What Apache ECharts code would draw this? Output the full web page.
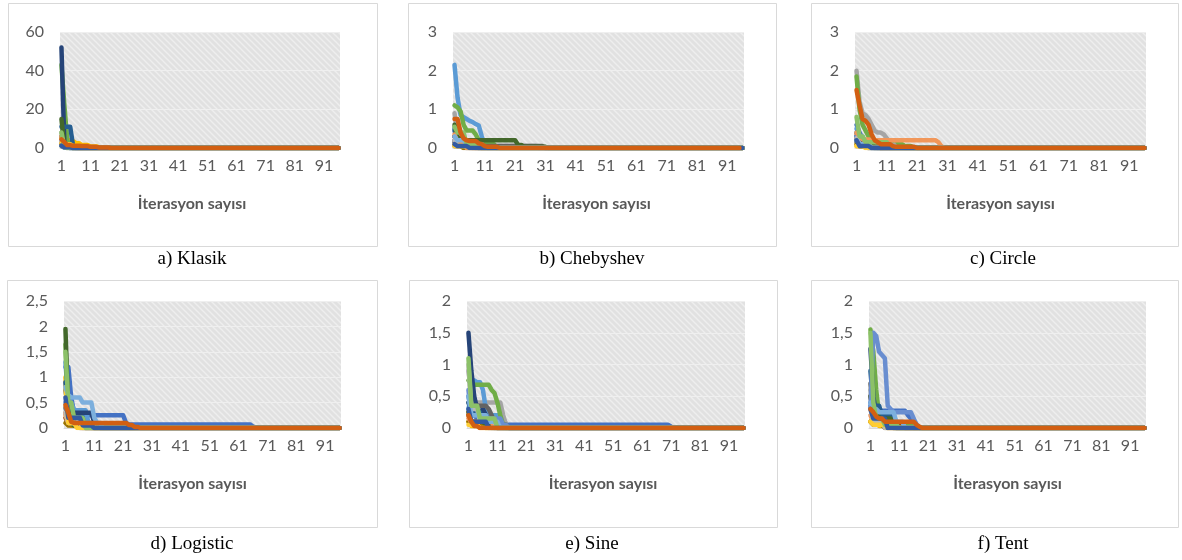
<!DOCTYPE html>
<html><head><meta charset="utf-8">
<script src="https://cdn.jsdelivr.net/npm/echarts@6/dist/echarts.min.js"></script>
<style>html,body{margin:0;padding:0;background:#fff;} #c{width:1182px;height:560px;}</style>
</head><body><div id="c"></div><script>
// ---------------- DATA ----------------
const N = 96; // iterations shown on the x axis
const categories = [];
for (let i = 1; i <= N; i++) categories.push(String(i));

// Series colours (Excel Office palette, 20 runs)
const colors = ['#4472C4','#ED7D31','#A5A5A5','#FFC000','#5B9BD5','#70AD47',
  '#264478','#9E480E','#636363','#997300','#255E91','#43682B',
  '#698ED0','#F1975A','#B7B7B7','#FFCD33','#7CAFDD','#8CC168',
  '#335AA1','#D25F12'];

// Each run is written as [value, how many consecutive iterations] pairs.
const klasik = [
  [[2,1],[0.5,2],[0,93]],
  [[3,1],[1,2],[0.3,3],[0,90]],
  [[8,1],[1,1],[0,94]],
  [[5,1],[4.5,2],[3.5,2],[2.5,2],[1.5,3],[0.8,3],[0.3,2],[0,81]],
  [[1.5,1],[0.5,2],[0,93]],
  [[43,1],[22,1],[4,1],[1,1],[0,92]],
  [[52,1],[2,1],[1,2],[0,92]],
  [[2,1],[0.5,3],[0,92]],
  [[6,1],[1,2],[0,93]],
  [[1,1],[0.2,3],[0,92]],
  [[11,4],[1,1],[0,91]],
  [[15,1],[0.5,1],[0,94]],
  [[4,1],[0.3,2],[0,93]],
  [[6,1],[1.5,2],[0.5,3],[0,90]],
  [[3,1],[0.2,2],[0,93]],
  [[2.5,1],[2,3],[1,3],[0.3,3],[0,86]],
  [[1,1],[0.2,2],[0,93]],
  [[8,1],[0.5,1],[0,94]],
  [[1.2,1],[0.4,3],[0,92]],
  [[4.5,1],[3,1],[1.5,2],[1.2,3],[1,3],[0.6,3],[0.3,4],[0,79]]
];
const chebyshev = [
  [[0.45,1],[0.15,2],[0.05,4],[0,89]],
  [[0.3,1],[0.15,3],[0.05,5],[0,87]],
  [[0.9,1],[0.3,2],[0.1,5],[0.05,20],[0,68]],
  [[0.1,1],[0.05,8],[0,87]],
  [[2.15,1],[1.3,1],[0.85,1],[0.8,1],[0.75,1],[0.7,1],[0.67,1],[0.62,1],[0.58,1],[0.3,1],[0.05,1],[0,85]],
  [[1.1,1],[1.05,1],[0.95,1],[0.6,1],[0.45,3],[0.35,1],[0.2,1],[0.15,1],[0.1,4],[0,82]],
  [[0.3,1],[0.1,3],[0,92]],
  [[0.2,1],[0.1,5],[0,90]],
  [[0.15,1],[0.1,5],[0.05,24],[0,66]],
  [[0.05,3],[0,93]],
  [[0.5,1],[0.15,4],[0.05,3],[0,88]],
  [[0.6,1],[0.25,2],[0.2,18],[0.08,2],[0.03,8],[0,65]],
  [[0.2,1],[0.1,2],[0.05,5],[0,88]],
  [[0.35,1],[0.15,3],[0,92]],
  [[0.2,1],[0.05,6],[0,89]],
  [[0.05,5],[0,91]],
  [[0.3,1],[0.2,3],[0.1,6],[0,86]],
  [[0.55,1],[0.4,3],[0.1,4],[0,88]],
  [[0.1,1],[0.05,4],[0,91]],
  [[0.75,2],[0.4,1],[0.25,1],[0.2,1],[0.18,3],[0.12,1],[0.1,1],[0.05,1],[0.03,4],[0,80]]
];
const circle = [
  [[0.6,1],[0.4,1],[0.25,1],[0.1,2],[0,91]],
  [[0.35,1],[0.2,3],[0.05,4],[0,88]],
  [[2.0,1],[1.2,1],[0.9,1],[0.85,1],[0.75,1],[0.6,1],[0.45,1],[0.4,2],[0.35,1],[0.25,1],[0.15,1],[0.1,1],[0.08,3],[0,80]],
  [[0.05,4],[0.02,4],[0,88]],
  [[0.5,1],[0.3,2],[0.05,2],[0,91]],
  [[1.85,1],[1.0,1],[0.6,1],[0.45,1],[0.3,1],[0.22,1],[0.2,8],[0.12,1],[0.1,1],[0.05,3],[0,77]],
  [[0.3,1],[0.1,3],[0,92]],
  [[0.25,1],[0.15,4],[0.05,3],[0,88]],
  [[0.15,1],[0.05,6],[0,89]],
  [[0.1,1],[0.05,3],[0,92]],
  [[0.4,1],[0.2,3],[0.05,2],[0,90]],
  [[0.2,1],[0.1,5],[0,90]],
  [[0.3,1],[0.1,3],[0,92]],
  [[0.4,1],[0.3,1],[0.22,3],[0.2,22],[0.15,1],[0.05,1],[0,67]],
  [[0.25,1],[0.1,3],[0,92]],
  [[0.05,3],[0,93]],
  [[0.2,1],[0.1,4],[0,91]],
  [[0.8,1],[0.3,2],[0.15,8],[0,85]],
  [[0.2,1],[0.05,4],[0,91]],
  [[1.5,1],[1.1,1],[0.75,1],[0.7,1],[0.6,1],[0.35,1],[0.2,1],[0.15,1],[0.1,4],[0.05,1],[0.03,7],[0,76]]
];
const logistic = [
  [[1.2,2],[0.6,1],[0.3,1],[0.25,17],[0.1,1],[0.07,43],[0.03,1],[0,30]],
  [[0.3,1],[0.15,3],[0.05,6],[0,86]],
  [[0.9,1],[0.3,2],[0.1,6],[0,87]],
  [[1.0,1],[0.3,1],[0.05,2],[0.02,18],[0,74]],
  [[1.3,1],[0.5,2],[0.35,5],[0.1,4],[0,84]],
  [[1.65,1],[0.4,1],[0.2,3],[0.1,5],[0,86]],
  [[0.75,1],[0.35,2],[0.3,7],[0.1,2],[0,84]],
  [[0.2,1],[0.1,4],[0,91]],
  [[0.4,1],[0.15,4],[0,91]],
  [[0.1,1],[0.05,5],[0,90]],
  [[0.9,1],[0.4,2],[0.2,4],[0,89]],
  [[1.95,1],[0.3,1],[0.1,1],[0.05,4],[0,89]],
  [[0.5,1],[0.2,4],[0.1,5],[0,86]],
  [[0.25,1],[0.1,6],[0,89]],
  [[0.3,1],[0.1,5],[0,90]],
  [[0.8,1],[0.1,3],[0,92]],
  [[0.8,1],[0.65,1],[0.6,4],[0.5,4],[0.2,1],[0.1,2],[0,83]],
  [[1.5,1],[0.5,2],[0.2,4],[0,89]],
  [[0.6,1],[0.2,5],[0.05,4],[0,86]],
  [[0.45,1],[0.3,1],[0.12,1],[0.1,19],[0.06,2],[0.02,2],[0,70]]
];
const sine = [
  [[0.5,1],[0.3,1],[0.2,1],[0.15,10],[0.06,1],[0.05,56],[0.02,1],[0,25]],
  [[0.25,1],[0.1,3],[0.05,6],[0,86]],
  [[0.9,1],[0.5,1],[0.42,1],[0.4,9],[0.2,1],[0.05,1],[0,82]],
  [[0.1,1],[0.03,5],[0,90]],
  [[0.3,1],[0.5,1],[0.75,1],[0.72,2],[0.6,1],[0.3,1],[0.2,4],[0.1,1],[0,84]],
  [[0.75,1],[0.7,1],[0.68,6],[0.6,1],[0.55,1],[0.4,1],[0.2,1],[0.05,1],[0,83]],
  [[1.5,1],[0.9,1],[0.5,1],[0.3,1],[0.25,1],[0.3,1],[0.2,1],[0.1,1],[0,88]],
  [[0.2,1],[0.1,5],[0.05,4],[0,86]],
  [[0.4,1],[0.35,6],[0.3,1],[0.2,1],[0.1,1],[0,86]],
  [[0.1,1],[0.05,5],[0,90]],
  [[0.4,1],[0.25,4],[0.1,4],[0,87]],
  [[0.25,1],[0.1,5],[0.05,8],[0,82]],
  [[0.6,1],[0.2,5],[0.15,6],[0.05,2],[0,82]],
  [[0.15,1],[0.1,8],[0,87]],
  [[1.0,1],[0.3,3],[0.1,6],[0,86]],
  [[0.05,4],[0,92]],
  [[0.5,1],[0.2,6],[0.1,4],[0,85]],
  [[1.1,1],[0.35,3],[0.15,6],[0,86]],
  [[0.3,1],[0.1,6],[0,89]],
  [[0.2,1],[0.1,1],[0.03,2],[0,92]]
];
const tent = [
  [[0.4,1],[0.35,1],[0.3,1],[0.28,1],[0.27,9],[0.2,1],[0.15,1],[0.12,1],[0.05,1],[0,79]],
  [[0.3,1],[0.15,3],[0.05,5],[0,87]],
  [[0.6,1],[0.2,3],[0.05,5],[0,87]],
  [[0.1,1],[0.08,2],[0.03,3],[0,90]],
  [[0.35,1],[0.25,3],[0.1,5],[0,87]],
  [[1.55,1],[1.2,1],[0.6,1],[0.2,1],[0.1,5],[0.05,6],[0,81]],
  [[1.25,1],[0.5,1],[0.2,3],[0.1,4],[0,87]],
  [[0.5,1],[0.2,3],[0.15,5],[0.05,3],[0,84]],
  [[0.7,1],[0.25,3],[0.1,4],[0,88]],
  [[0.1,1],[0.05,4],[0,91]],
  [[0.9,1],[0.35,3],[0.2,4],[0,88]],
  [[0.5,1],[0.3,2],[0.15,5],[0,88]],
  [[0.3,1],[1.5,1],[1.45,1],[1.2,1],[1.15,1],[1.1,1],[0.35,1],[0.3,1],[0.25,7],[0.15,1],[0.05,1],[0,79]],
  [[0.2,1],[0.1,5],[0,90]],
  [[0.3,1],[0.1,4],[0,91]],
  [[0.1,1],[0.05,5],[0,90]],
  [[0.4,1],[0.3,2],[0.25,6],[0.1,3],[0,84]],
  [[1.5,1],[0.4,1],[0.15,3],[0.05,5],[0,86]],
  [[0.3,1],[0.15,5],[0,90]],
  [[0.3,1],[0.25,1],[0.18,1],[0.15,2],[0.1,11],[0.05,1],[0.02,1],[0,78]]
];

// Panel texts and y-axis ticks
const captions = ['a) Klasik','b) Chebyshev','c) Circle','d) Logistic','e) Sine','f) Tent'];
const yMax = [60, 3, 3, 2.5, 2, 2];
const yStep = [20, 1, 1, 0.5, 0.5, 0.5];
const xTitle = 'İterasyon sayısı';

// ---------------- LAYOUT ----------------
const panelData = [klasik, chebyshev, circle, logistic, sine, tent];
const grids = [
  {left: 60,  top: 32,  width: 280, height: 116},
  {left: 453, top: 32,  width: 291, height: 116},
  {left: 855, top: 32,  width: 291, height: 116},
  {left: 64,  top: 301, width: 277, height: 127},
  {left: 467, top: 301, width: 278, height: 127},
  {left: 869, top: 301, width: 277, height: 127}
];
const boxes = [
  {x: 8,   y: 3,   w: 369, h: 243},
  {x: 408, y: 3,   w: 368, h: 243},
  {x: 811, y: 3,   w: 367, h: 243},
  {x: 7,   y: 280, w: 370, h: 247},
  {x: 409, y: 280, w: 368, h: 247},
  {x: 811, y: 280, w: 367, h: 247}
];
const captionPos = [[192,259],[592,259],[1003,259],[192,544],[592,544],[1003,544]];
const titleShift = [16, 4, 0, 20, 6, 0];

function expand(pairs) {
  const out = [];
  pairs.forEach(p => { for (let k = 0; k < p[1]; k++) out.push(p[0]); });
  return out.slice(0, N);
}

function makePattern() {
  const s = 6;
  const c = document.createElement('canvas');
  c.width = s; c.height = s;
  const g = c.getContext('2d');
  g.fillStyle = '#e1e1e1';
  g.fillRect(0, 0, s, s);
  g.strokeStyle = '#eeeeee';
  g.lineWidth = 1.4;
  g.beginPath();
  for (let k = -1; k <= 1; k++) {
    g.moveTo(-2, -2 + k * s);
    g.lineTo(s + 2, s + 2 + k * s);
  }
  g.stroke();
  return c;
}
const pattern = {image: makePattern(), repeat: 'repeat'};

const labelFont = {fontFamily: 'Lato', fontSize: 16, color: '#595959'};
const fmt = v => String(v).replace('.', ',');

const option = {
  animation: false,
  backgroundColor: '#ffffff',
  grid: [], xAxis: [], yAxis: [], series: [], graphic: []
};

boxes.forEach(b => option.graphic.push({
  type: 'rect', z: -10, silent: true,
  shape: {x: b.x + 0.5, y: b.y + 0.5, width: b.w, height: b.h},
  style: {fill: '#ffffff', stroke: '#d9d9d9', lineWidth: 1}
}));
captions.forEach((t, i) => option.graphic.push({
  type: 'text', silent: true, x: captionPos[i][0], y: captionPos[i][1],
  style: {text: t, font: '19px "Liberation Serif"', fill: '#000000',
          textAlign: 'center', textVerticalAlign: 'middle'}
}));

panelData.forEach((runs, i) => {
  option.grid.push(Object.assign({show: true, backgroundColor: pattern, borderWidth: 0}, grids[i]));
  option.xAxis.push({
    type: 'category', gridIndex: i, data: categories, boundaryGap: true,
    axisTick: {show: false},
    axisLine: {show: true, lineStyle: {color: '#d9d9d9'}},
    axisLabel: Object.assign({interval: 9, margin: 10}, labelFont),
    name: xTitle, nameLocation: 'middle', nameGap: 56,
    nameTextStyle: {fontFamily: 'Lato', fontSize: 16, fontWeight: 'bold', color: '#595959',
                    verticalAlign: 'middle', padding: [0, titleShift[i], 0, 0]}
  });
  option.yAxis.push({
    type: 'value', gridIndex: i, min: 0, max: yMax[i], interval: yStep[i],
    axisLine: {show: false}, axisTick: {show: false},
    axisLabel: Object.assign({margin: 16, formatter: fmt}, labelFont),
    splitLine: {show: true, lineStyle: {color: '#efefef', width: 1}}
  });
  runs.forEach((pairs, j) => option.series.push({
    type: 'line', xAxisIndex: i, yAxisIndex: i, data: expand(pairs),
    symbol: 'none', smooth: false,
    lineStyle: {width: 4.5, color: colors[j], join: 'round', cap: 'round'},
    itemStyle: {color: colors[j]}
  }));
});

const chart = echarts.init(document.getElementById('c'), null, {renderer: 'canvas'});
chart.setOption(option);
</script></body></html>
